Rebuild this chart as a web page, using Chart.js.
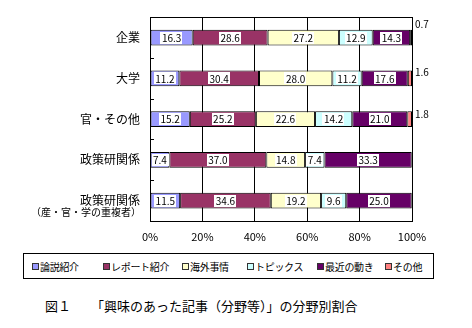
<!DOCTYPE html>
<html lang="ja">
<head>
  <meta charset="UTF-8" />
  <title>興味のあった記事の分野別割合</title>
  <script src="https://cdn.jsdelivr.net/npm/chart.js@4.4.0/dist/chart.umd.min.js"></script>
  <style>
    body {
      margin: 0;
      background: #fff;
      font-family: "Noto Sans CJK JP", "Noto Sans", sans-serif;
      color: #000;
    }
    #wrap {
      position: relative;
      width: 472px;
      height: 328px;
      overflow: hidden;
    }
    #chart {
      position: absolute;
      left: 0;
      top: 0;
    }
    #legend {
      position: absolute;
      left: 23px;
      top: 253px;
      width: 411px;
      height: 26px;
      border: 1px solid #000;
      box-sizing: border-box;
      font-size: 10px;
    }
    .item {
      position: absolute;
      top: 5px;
      display: flex;
      align-items: center;
      white-space: nowrap;
      letter-spacing: -0.3px;
    }
    .mark {
      width: 5px;
      height: 5px;
      border: 1px solid #333;
      margin-right: 1px;
    }
    #caption {
      position: absolute;
      left: 45px;
      top: 296px;
      font-size: 13px;
      white-space: nowrap;
    }
    #caption span { margin-right: 20px; }
  </style>
</head>
<body>
<div id="wrap">
  <canvas id="chart" width="472" height="248"></canvas>
  <div id="legend"></div>
  <div id="caption"><span>図１</span>「興味のあった記事（分野等）」の分野別割合</div>
</div>

<script>
  // 回答者区分
  const categories = ['企業', '大学', '官・その他', '政策研関係', '政策研関係'];
  const subLabels = ['', '', '', '', '（産・官・学の重複者）'];

  // 分野別の割合（%）
  const seriesNames = ['論説紹介', 'レポート紹介', '海外事情', 'トピックス', '最近の動き', 'その他'];
  const ronsetsu = [16.3, 11.2, 15.2, 7.4, 11.5];
  const report   = [28.6, 30.4, 25.2, 37.0, 34.6];
  const kaigai   = [27.2, 28.0, 22.6, 14.8, 19.2];
  const topics   = [12.9, 11.2, 14.2, 7.4, 9.6];
  const saikin   = [14.3, 17.6, 21.0, 33.3, 25.0];
  const sonota   = [0.7, 1.6, 1.8, 0, 0];

  const xTicks = [0, 20, 40, 60, 80, 100];

  const colors = ['#9999ff', '#993366', '#ffffcc', '#ccffff', '#660066', '#ff8080'];
  const seriesData = [ronsetsu, report, kaigai, topics, saikin, sonota];

  // 「その他」の値ラベルは棒の右外に少しずらして置く
  const otherNudge = [-13, -6, -5, 0, 0];
  // 凡例項目の左端（凡例枠内）
  const legendLeft = [8, 79, 158, 223, 293, 361];

  const FONT = '"Noto Sans CJK JP", "Noto Sans", sans-serif';

  // 凡例（HTML）
  const legend = document.getElementById('legend');
  seriesNames.forEach((name, i) => {
    const it = document.createElement('div');
    it.className = 'item';
    it.style.left = legendLeft[i] + 'px';
    it.innerHTML = `<span class="mark" style="background:${colors[i]}"></span>${name}`;
    legend.appendChild(it);
  });

  const decorations = {
    id: 'decorations',
    afterDatasetsDraw(chart) {
      const ctx = chart.ctx;
      const area = chart.chartArea;
      const y = chart.scales.y;
      ctx.save();

      // 枠線
      ctx.strokeStyle = '#000';
      ctx.lineWidth = 1;
      ctx.strokeRect(Math.round(area.left) + 0.5, Math.round(area.top) + 0.5,
        Math.round(area.right - area.left), Math.round(area.bottom - area.top));

      // 区分の境目の短い目盛り
      ctx.beginPath();
      for (let i = 0; i < categories.length - 1; i++) {
        const yy = Math.round((y.getPixelForValue(i) + y.getPixelForValue(i + 1)) / 2) + 0.5;
        ctx.moveTo(area.left, yy);
        ctx.lineTo(area.left + 4, yy);
      }
      ctx.stroke();

      // 値ラベル
      ctx.font = '10px ' + FONT;
      ctx.textBaseline = 'middle';
      chart.data.datasets.forEach((ds, di) => {
        const meta = chart.getDatasetMeta(di);
        meta.data.forEach((bar, i) => {
          const v = ds.data[i];
          if (!v) return;
          const txt = v.toFixed(1);
          if (di === seriesData.length - 1) {
            ctx.textAlign = 'left';
            ctx.fillStyle = '#000';
            ctx.fillText(txt, area.right + 3, bar.y + otherNudge[i]);
            return;
          }
          const cx = (bar.x + bar.base) / 2;
          const w = ctx.measureText(txt).width + 3;
          ctx.fillStyle = '#fff';
          ctx.fillRect(Math.round(cx - w / 2), Math.round(bar.y - 6), Math.round(w), 12);
          ctx.fillStyle = '#000';
          ctx.textAlign = 'center';
          ctx.fillText(txt, cx, bar.y + 0.5);
        });
      });

      // 2行目の区分ラベル
      ctx.font = '10px ' + FONT;
      ctx.textAlign = 'right';
      ctx.fillStyle = '#000';
      subLabels.forEach((s, i) => {
        if (s) ctx.fillText(s, area.left - 9, y.getPixelForValue(i) + 12);
      });
      ctx.restore();
    }
  };

  new Chart(document.getElementById('chart'), {
    type: 'bar',
    data: {
      labels: categories,
      datasets: seriesNames.map((name, i) => ({
        label: name,
        data: seriesData[i],
        backgroundColor: colors[i],
        borderColor: '#000',
        borderWidth: 1,
        borderSkipped: false,
        barPercentage: 0.39,
        categoryPercentage: 1
      }))
    },
    options: {
      indexAxis: 'y',
      responsive: false,
      animation: false,
      layout: { padding: { top: 14, right: 60, left: 0, bottom: 0 } },
      plugins: {
        legend: { display: false },
        tooltip: { enabled: false }
      },
      scales: {
        x: {
          stacked: true,
          min: 0,
          max: 100,
          afterFit(scale) { scale.height = 27; },
          afterBuildTicks(scale) { scale.ticks = xTicks.map(v => ({ value: v })); },
          ticks: {
            callback: v => v + '%',
            color: '#000',
            padding: 9,
            maxRotation: 0,
            font: { family: FONT, size: 11 }
          },
          grid: { color: '#000', drawTicks: false },
          border: { color: '#000' }
        },
        y: {
          stacked: true,
          afterFit(scale) { scale.width = 150; },
          ticks: {
            color: '#000',
            padding: 10,
            font: { family: FONT, size: 12 }
          },
          grid: { display: false, drawTicks: false },
          border: { color: '#000' }
        }
      }
    },
    plugins: [decorations]
  });
</script>
</body>
</html>
